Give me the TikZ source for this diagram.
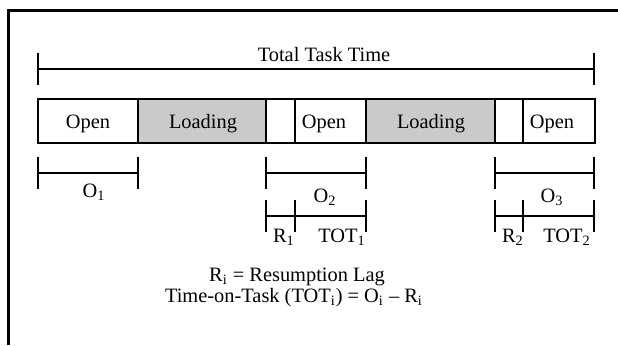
\documentclass[tikz,border=0pt]{standalone}
\usepackage{fontspec}
\setmainfont{Liberation Serif}
\usepackage{tikz}
\usetikzlibrary{calc}
\newcommand{\barTop}{99}
\newcommand{\barBot}{143}
\newcommand{\tickH}{16}
% left/right/fill/label/label x
\def\segments{
  38/138/white/Open/88,
  138/266/loadgray/Loading/203,
  266/295/white//280,
  295/366/white/Open/324,
  366/495/loadgray/Loading/431,
  495/523/white//509,
  523/595/white/Open/552
}
% left/right/height of the bracket
\def\spans{
  38/594/69,
  38/138/173,
  266/366/173,
  495/594/173,
  266/366/216,
  495/594/216
}
\definecolor{loadgray}{RGB}{202,202,202}
\tikzset{
  frame/.style   = {line width=1.5pt, draw=black},
  seg/.style     = {line width=1pt, draw=black},
  spanline/.style= {line width=1pt, draw=black},
  lbl/.style     = {anchor=base, inner sep=0pt, font=\fontsize{10.2}{11}\selectfont}
}

\begin{document}
\begin{tikzpicture}[x={(0.5pt,0)}, y={(0,-0.5pt)}]
    \useasboundingbox (0,0) rectangle (618,345);
    % outer frame (cut at right and bottom)
    \draw[frame] (9,345) -- (9,10) -- (618,10);

    % task bar
    \foreach \l/\r/\c/\t/\lx [count=\n] in \segments {
      \draw[seg, fill=\c] (\l,\barTop) rectangle (\r,\barBot);
      \node[lbl] (seg\n) at (\lx,128) {\t};
    }

    % brackets with end ticks
    \foreach \l/\r/\h in \spans {
      \draw[spanline] (\l,\h-\tickH) -- (\l,\h+\tickH);
      \draw[spanline] (\r,\h-\tickH) -- (\r,\h+\tickH);
      \draw[spanline] (\l,\h) -- (\r,\h);
    }
    % resumption lag ticks
    \draw[spanline] (295,216-\tickH) -- (295,216+\tickH);
    \draw[spanline] (523,216-\tickH) -- (523,216+\tickH);

    % labels
    \node[lbl] (total) at (324,61) {Total Task Time};
    \node[lbl] (o1) at (94,197) {O\textsubscript{1}};
    \node[lbl] (o2) at (325,202) {O\textsubscript{2}};
    \node[lbl] (o3) at (552,202) {O\textsubscript{3}};
    \node[lbl] (r1) at (284,242) {R\textsubscript{1}};
    \node[lbl] (tot1) at (342,242) {TOT\textsubscript{1}};
    \node[lbl] (r2) at (513,242) {R\textsubscript{2}};
    \node[lbl] (tot2) at (567,242) {TOT\textsubscript{2}};

    % definitions
    \node[lbl] (lag) at (297,281) {R\textsubscript{i} = Resumption Lag};
    \node[lbl] (tot) at (294,302) {Time-on-Task (TOT\textsubscript{i}) = O\textsubscript{i} -- R\textsubscript{i}};
\end{tikzpicture}
\end{document}
